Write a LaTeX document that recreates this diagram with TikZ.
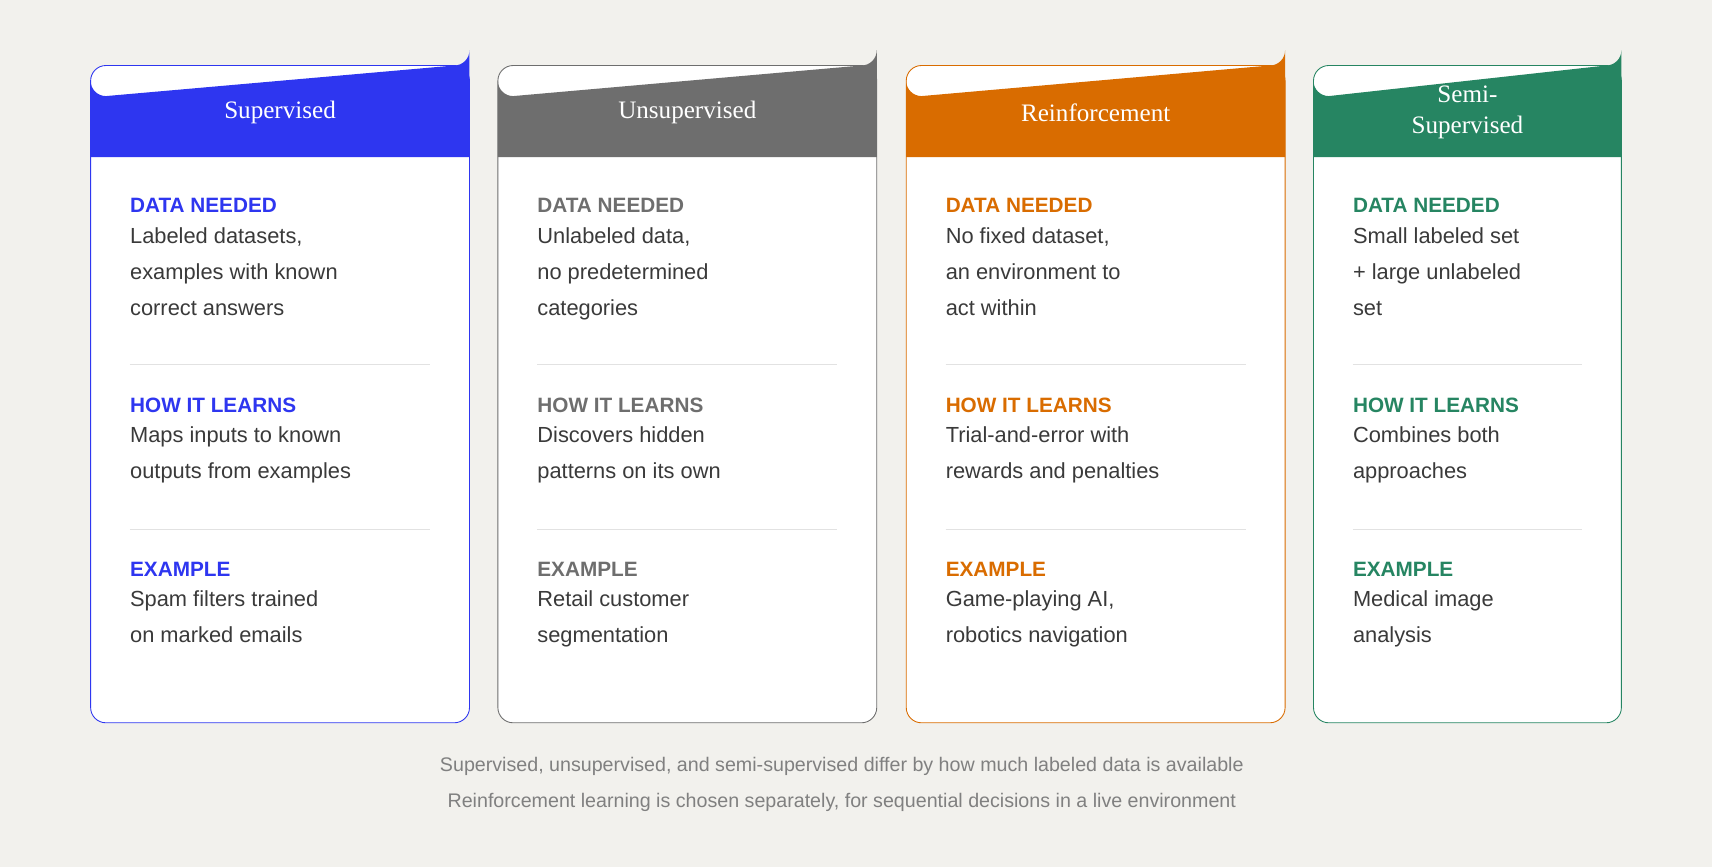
\documentclass[tikz,border=0pt]{standalone}
\usepackage{fontspec}
\setmainfont{Liberation Sans}
\newfontfamily\headfont{Liberation Serif}
\definecolor{bgc}{HTML}{F2F1ED}
\definecolor{supc}{HTML}{2E36F0}
\definecolor{unsc}{HTML}{6E6E6E}
\definecolor{renc}{HTML}{D96C00}
\definecolor{semc}{HTML}{268562}
\definecolor{bodyc}{HTML}{3A3A3A}
\definecolor{rulec}{HTML}{E2E2E2}
\definecolor{notec}{HTML}{808080}
\begin{document}
\begin{tikzpicture}[x=1pt, y=-1pt,
  head/.style={font=\headfont\fontsize{23}{29}\selectfont, text=white, align=center},
  tag/.style={anchor=base west, inner sep=0pt, font=\bfseries\fontsize{19}{23}\selectfont},
  body/.style={anchor=north west, inner sep=0pt, align=left, text=bodyc, font=\fontsize{20}{33}\selectfont},
  note/.style={text=notec, font=\fontsize{18}{22}\selectfont}]
\useasboundingbox[fill=bgc] (0,0) rectangle (1568,794);

% Cards
\foreach \x/\w/\c/\t/\a/\b/\e/\n in {
  83/347/supc/{Supervised}/{Labeled datasets,\\examples with known\\correct answers}/{Maps inputs to known\\outputs from examples}/{Spam filters trained\\on marked emails}/sup,
  456/347/unsc/{Unsupervised}/{Unlabeled data,\\no predetermined\\categories}/{Discovers hidden\\patterns on its own}/{Retail customer\\segmentation}/uns,
  830/347/renc/{Reinforcement}/{No fixed dataset,\\an environment to\\act within}/{Trial-and-error with\\rewards and penalties}/{Game-playing AI,\\robotics navigation}/ren,
  1203/282/semc/{Semi-\\Supervised}/{Small labeled set\\+ large unlabeled\\set}/{Combines both\\approaches}/{Medical image\\analysis}/sem}{
  \draw[\c, line width=0.8pt, fill=white, rounded corners=14pt] (\x,60) rectangle ++(\w,602);
  \fill[\c] (\x,144) -- (\x,74) arc[start angle=180, end angle=90, radius=14] -- (\x+\w-14,60)
    arc[start angle=90, end angle=0, radius=14] -- (\x+\w,144) -- cycle;
  \node[head] (\n-head) at (\x+\w/2,103) {\t};
  \node[tag, text=\c] (\n-data) at (\x+36,195) {DATA NEEDED};
  \node[body] (\n-datab) at (\x+36,208) {\a};
  \draw[rulec] (\x+36,334) -- (\x+\w-36,334);
  \node[tag, text=\c] (\n-how) at (\x+36,378) {HOW IT LEARNS};
  \node[body] (\n-howb) at (\x+36,391) {\b};
  \draw[rulec] (\x+36,485) -- (\x+\w-36,485);
  \node[tag, text=\c] (\n-ex) at (\x+36,528) {EXAMPLE};
  \node[body] (\n-exb) at (\x+36,541) {\e};
}

% Notes
\node[note] (note1) at (771,702) {Supervised, unsupervised, and semi-supervised differ by how much labeled data is available};
\node[note] (note2) at (771,735) {Reinforcement learning is chosen separately, for sequential decisions in a live environment};
\end{tikzpicture}
\end{document}
